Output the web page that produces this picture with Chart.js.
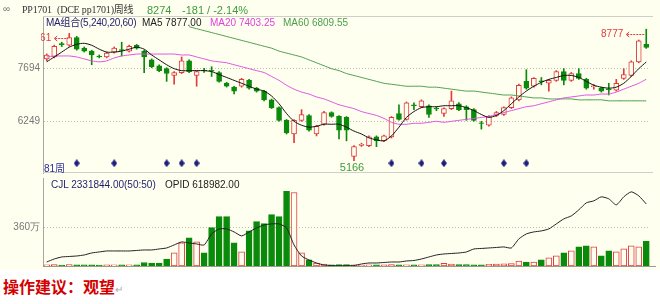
<!DOCTYPE html>
<html>
<head>
<meta charset="utf-8">
<script src="https://cdn.jsdelivr.net/npm/chart.js@4.4.0/dist/chart.umd.min.js"></script>
<style>
body{margin:0;background:#fff;width:660px;height:304px;overflow:hidden;position:relative;font-family:"Liberation Sans","Noto Sans CJK SC",sans-serif;}
#panel{position:absolute;left:0;top:0;width:660px;height:270px;background:#fffff0;}
canvas{position:absolute;left:0;}
.t{position:absolute;white-space:nowrap;font-size:10px;line-height:12px;}
.serif{font-family:"Liberation Serif","Noto Sans CJK SC",serif;font-size:10px;letter-spacing:-0.2px;}
</style>
</head>
<body>
<div id="panel"></div>
<canvas id="price" width="660" height="178" style="top:0"></canvas>
<canvas id="vol" width="660" height="92" style="top:177px"></canvas>

<div class="t" style="left:3px;top:3px;color:#777">∞</div>
<div class="t serif" style="left:22px;top:4px;color:#333">PP1701</div>
<div class="t serif" style="left:57px;top:4px;color:#333">(DCE pp1701)周线</div>
<div class="t" style="left:147px;top:4px;color:#3c9c3c;font-size:11px">8274</div>
<div class="t" style="left:182px;top:4px;color:#3c9c3c;font-size:11px">-181 / -2.14%</div>

<div class="t" style="left:46px;top:17px;color:#1e1e6e;letter-spacing:-0.25px">MA组合(5,240,20,60)</div>
<div class="t" style="left:142px;top:17px;color:#222">MA5 7877.00</div>
<div class="t" style="left:210px;top:17px;color:#e040e0">MA20 7403.25</div>
<div class="t" style="left:283px;top:17px;color:#4c9c4c">MA60 6809.55</div>

<div class="t" style="left:44px;top:163px;color:#2a2a9a">81周</div>

<div class="t" style="left:51px;top:179px;color:#1e1e6e">CJL 2331844.00(50:50)</div>
<div class="t" style="left:165px;top:179px;color:#222">OPID 618982.00</div>

<div class="t" style="left:3px;top:276px;color:#d40000;font-size:16px;line-height:20px;font-weight:bold;font-family:'Noto Sans CJK SC',sans-serif">操作建议：观望<span style="color:#aaa;font-size:10px;font-weight:normal">↵</span></div>

<script>
// weekly PP1701 candles, oldest first
const weeks = Array.from({length: 81}, (_, i) => String(i + 1));

const opens = [7962,8015,8380,8336,8550,8256,8176,8042,8015,8149, 8215,8176,8336,8176,7935,7774,7694,7507,7587,7908,
  7507,7650,7650,7587,7293,7186,7212,7373,7159,7079, 6838,6624,6276,5901,6276,6410,5901,6169,6490,6383,
  6356,5286,5590,5580,5821,5714,5821,6463,6302,6700, 6650,6677,6610,6463,6597,6731,6650,6570,6210,6142,
  6410,6436,6624,6838,7346,7212,7360,7293,7373,7614, 7373,7560,7400,7200,7159,7140,7105,7426,7507,7881,
  8360];
const highs = [8100,8340,8420,8661,8580,8290,8200,8070,8150,8290, 8420,8340,8360,8200,7960,7800,7720,7614,8015,7935,
  7640,7700,7748,7614,7320,7210,7430,7400,7180,7100, 6860,6650,6300,6300,6570,6436,6140,6520,6510,6410,
  6380,5580,5650,5850,5850,5870,6380,6704,6780,6757, 6838,6700,6650,6620,7079,6760,6677,6600,6250,6410,
  6520,6650,6920,7270,7667,7450,7450,7400,7640,7694, 7590,7694,7430,7260,7186,7293,7400,7694,7910,8480,
  8777];
const lows = [7908,7990,8300,8310,8200,8150,7801,7990,7990,8120, 8042,8150,8230,7587,7720,7610,7346,7266,7560,7587,
  7212,7590,7480,7320,7190,6998,7186,7130,7050,6810, 6600,6250,5900,5660,6250,5980,5848,6142,6360,5767,
  5714,5166,5560,5553,5553,5690,5790,6280,6280,6570, 6624,6356,6540,6383,6570,6540,6276,6250,6035,6115,
  6380,6410,6600,6810,7130,7186,7250,7079,7346,7250, 7346,7400,7130,7130,7050,6972,7079,7400,7480,7855,
  8250];
const closes = [8069,8309,8350,8550,8229,8176,8069,8015,8122,8256, 8195,8309,8256,8015,7748,7640,7560,7587,7908,7614,
  7614,7630,7625,7346,7212,7079,7400,7159,7079,6838, 6624,6276,5928,6276,6436,6008,6115,6490,6383,6008,
  6008,5553,5620,5821,5714,5848,6356,6302,6757,6680, 6811,6436,6590,6597,6811,6570,6570,6276,6190,6383,
  6490,6624,6891,7239,7159,7426,7340,7373,7614,7373, 7560,7426,7159,7225,7079,7120,7293,7533,7881,8455,
  8274];

const ma5 = [7881,8015,8149,8283,8363,8390,8336,8229,8149,8149, 8176,8229,8283,8229,8069,7935,7801,7694,7640,7640,
  7640,7640,7614,7533,7453,7373,7293,7212,7132,7079, 6945,6731,6463,6249,6142,6088,6115,6169,6169,6169,
  6088,5981,5901,5794,5741,5714,5848,6088,6356,6517, 6624,6650,6650,6677,6677,6677,6624,6543,6436,6356,
  6410,6543,6731,6918,7079,7212,7319,7400,7453,7507, 7507,7453,7346,7239,7186,7159,7186,7293,7480,7694,
  7877];
const ma20 = [8015,8042,8042,8042,8015,7962,7908,7881,7908,7988, 8042,8069,8095,8095,8095,8095,8095,8095,8069,8069,
  8015,7962,7908,7881,7855,7801,7748,7694,7640,7587, 7480,7373,7239,7132,7052,6998,6918,6864,6784,6704,
  6650,6597,6517,6463,6410,6329,6222,6169,6169,6195, 6195,6222,6249,6222,6249,6276,6302,6329,6356,6383,
  6436,6490,6543,6597,6650,6677,6731,6784,6838,6891, 6918,6945,6971,6971,6998,6998,7052,7132,7212,7293,
  7403];
const ma60 = [null,null,null,null,null,null,null,null,null,null, null,null,null,null,null,null,null,null,null,8845,
  8791,8738,8684,8631,8577,8524,8470,8417,8363,8309, 8256,8176,8122,8069,8015,7935,7855,7774,7694,7640,
  7560,7507,7453,7400,7346,7293,7266,7239,7212,7212, 7212,7186,7186,7159,7132,7105,7079,7079,7052,7025,
  6998,6971,6971,6945,6918,6891,6891,6864,6864,6864, 6864,6838,6838,6838,6838,6811,6811,6811,6811,6811,
  6810];

// volume in 万 lots, open interest in lots
const volume = [12,14,9,13,11,10,12,9,10,11, 10,12,11,33,28,28,66,123,218,265,
  227,123,360,464,464,218,133,331,417,398, 483,464,701,691,123,57,28,19,12,14,
  13,10,9,11,12,10,14,12,11,10, 12,13,14,26,19,13,14,12,11,16,
  18,20,22,47,38,38,57,76,95,123, 142,180,189,180,95,142,133,161,189,180,
  233];
const opid = [40000,70000,90000,95000,100000,110000,130000,140000,150000,150000,
  150000,150000,155000,160000,160000,170000,180000,210000,240000,230000,
  220000,210000,320000,370000,370000,340000,300000,340000,380000,410000,
  420000,420000,380000,210000,100000,60000,30000,10000,5000,3000,
  3000,5000,20000,30000,30000,35000,40000,40000,50000,55000,
  70000,90000,110000,120000,125000,130000,140000,170000,175000,180000,
  185000,190000,180000,270000,320000,340000,350000,370000,420000,470000,
  500000,560000,630000,650000,690000,670000,610000,690000,740000,700000,
  618982];

const signals = [4, 9, 16, 18, 20, 46, 50, 53, 61, 64];
const signalLevel = 5100;
const priceTicks = [7694, 6249];
const volTicks = [360];

const RED = '#e03c3c', GREEN = '#0a8a0a', CREAM = '#fffff0';
const up = closes.map((c, i) => c >= opens[i]);
const candleColor = up.map(u => u ? RED : GREEN);
const candleFill = up.map(u => u ? CREAM : GREEN);

const diamond = document.createElement('canvas');
diamond.width = 6; diamond.height = 8;
const dctx = diamond.getContext('2d');
dctx.fillStyle = '#1f1f7a';
dctx.beginPath();
dctx.moveTo(3, 0); dctx.lineTo(6, 4); dctx.lineTo(3, 8); dctx.lineTo(0, 4);
dctx.closePath(); dctx.fill();

// [candle index, gap between label and candle]
const highMarks = [
  [highs.indexOf(Math.max(...highs.slice(0, 20))), 18],
  [highs.indexOf(Math.max(...highs)), 23]
];

const frame = {
  id: 'frame',
  beforeDatasetsDraw(chart) {
    const {ctx, chartArea: a} = chart;
    ctx.save();
    ctx.strokeStyle = '#d0d0c8';
    ctx.lineWidth = 1;
    ctx.beginPath();
    ctx.moveTo(a.left, a.top + 0.5); ctx.lineTo(a.right + 3, a.top + 0.5);
    ctx.moveTo(a.left, a.bottom - 0.5); ctx.lineTo(a.right + 3, a.bottom - 0.5);
    ctx.stroke();
    ctx.restore();
  }
};

const markers = {
  id: 'markers',
  afterDatasetsDraw(chart) {
    const {ctx, chartArea: a, scales: {x, y}} = chart;
    ctx.save();
    ctx.beginPath();
    ctx.rect(a.left - 2, a.top, a.right - a.left + 2, a.bottom - a.top);
    ctx.clip();
    ctx.font = '10px "Liberation Sans", sans-serif';
    ctx.textBaseline = 'middle';
    ctx.lineWidth = 1;
    highMarks.forEach(([i, gap]) => {
      const px = x.getPixelForValue(i);
      const py = Math.round(y.getPixelForValue(highs[i]) + 5) + 0.5;
      ctx.fillStyle = ctx.strokeStyle = RED;
      ctx.textAlign = 'right';
      ctx.fillText(String(highs[i]), px - gap, py);
      ctx.setLineDash([2, 1]);
      ctx.beginPath(); ctx.moveTo(px - gap + 4, py); ctx.lineTo(px - 1, py); ctx.stroke();
      ctx.setLineDash([]);
      ctx.beginPath();
      ctx.moveTo(px - gap + 6, py - 2.5); ctx.lineTo(px - gap + 3, py); ctx.lineTo(px - gap + 6, py + 2.5);
      ctx.stroke();
    });
    const lo = lows.indexOf(Math.min(...lows));
    ctx.fillStyle = '#3c9c3c';
    ctx.textAlign = 'center';
    ctx.font = '11px "Liberation Sans", sans-serif';
    ctx.fillText(String(lows[lo]), x.getPixelForValue(lo) - 2, y.getPixelForValue(lows[lo]) + 7);
    ctx.restore();
  }
};

const baseline = {
  id: 'baseline',
  afterDatasetsDraw(chart) {
    const {ctx, chartArea: a} = chart;
    ctx.save();
    ctx.strokeStyle = '#999';
    ctx.lineWidth = 1;
    ctx.beginPath();
    ctx.moveTo(a.left, a.bottom + 0.5); ctx.lineTo(a.right + 6, a.bottom + 0.5);
    ctx.stroke();
    ctx.restore();
  }
};

const tickFont = { size: 10, family: 'Liberation Sans' };
// fixed axis width, and no extra room reserved for tick labels
const fitAxis = s => { s.width = 43; s.paddingTop = 0; s.paddingBottom = 0; };

new Chart(document.getElementById('price'), {
  type: 'bar',
  data: {
    labels: weeks,
    datasets: [
      { type: 'line', data: ma5, borderColor: '#111', borderWidth: 1, pointRadius: 0, tension: 0.25, order: -3 },
      { type: 'line', data: ma20, borderColor: '#e050e0', borderWidth: 1, pointRadius: 0, tension: 0.25, order: -2 },
      { type: 'line', data: ma60, borderColor: '#4c9c4c', borderWidth: 1, pointRadius: 0, tension: 0.25, order: -1 },
      { type: 'line', data: weeks.map((w, i) => signals.includes(i) ? signalLevel : null),
        showLine: false, pointStyle: diamond, pointRadius: 4, order: -4 },
      { data: opens.map((o, i) => [o, closes[i]]), backgroundColor: candleFill, borderColor: candleColor,
        borderWidth: 1, borderSkipped: false, barThickness: 5, grouped: false, order: 0 },
      { data: lows.map((l, i) => [l, highs[i]]), backgroundColor: candleColor,
        borderWidth: 0, barThickness: 1, grouped: false, order: 1 }
    ]
  },
  options: {
    responsive: false,
    animation: false,
    layout: { padding: { left: 0, right: 10, top: 16, bottom: 1 } },
    plugins: { legend: { display: false }, tooltip: { enabled: false } },
    scales: {
      x: { display: false, offset: true },
      y: {
        min: 4831, max: 9139,
        afterFit: fitAxis,
        afterBuildTicks: s => { s.ticks = priceTicks.map(v => ({ value: v })); },
        grid: { color: '#bdbdb0', drawTicks: false },
        border: { display: true, color: '#a8a8a0', dash: [1, 2] },
        ticks: { color: '#777', font: tickFont, padding: 3, callback: v => String(v) }
      }
    }
  },
  plugins: [frame, markers]
});

new Chart(document.getElementById('vol'), {
  type: 'bar',
  data: {
    labels: weeks,
    datasets: [
      { type: 'line', data: opid, yAxisID: 'y2', borderColor: '#222', borderWidth: 1, pointRadius: 0, tension: 0.2, order: -1 },
      { data: volume, yAxisID: 'y', backgroundColor: candleFill, borderColor: candleColor,
        borderWidth: 1, borderSkipped: false, barThickness: 6, order: 0 }
    ]
  },
  options: {
    responsive: false,
    animation: false,
    layout: { padding: { left: 0, right: 10, top: 1, bottom: 3 } },
    plugins: { legend: { display: false }, tooltip: { enabled: false } },
    scales: {
      x: { display: false, offset: true },
      y: {
        min: 0, max: 827,
        afterFit: fitAxis,
        afterBuildTicks: s => { s.ticks = volTicks.map(v => ({ value: v })); },
        grid: { color: '#bdbdb0', drawTicks: false },
        border: { display: true, color: '#a8a8a0', dash: [1, 2] },
        ticks: { color: '#777', font: tickFont, padding: 3, callback: v => v + '万' }
      },
      y2: { display: false, min: 0, max: 878000 }
    }
  },
  plugins: [baseline]
});
</script>
</body>
</html>
